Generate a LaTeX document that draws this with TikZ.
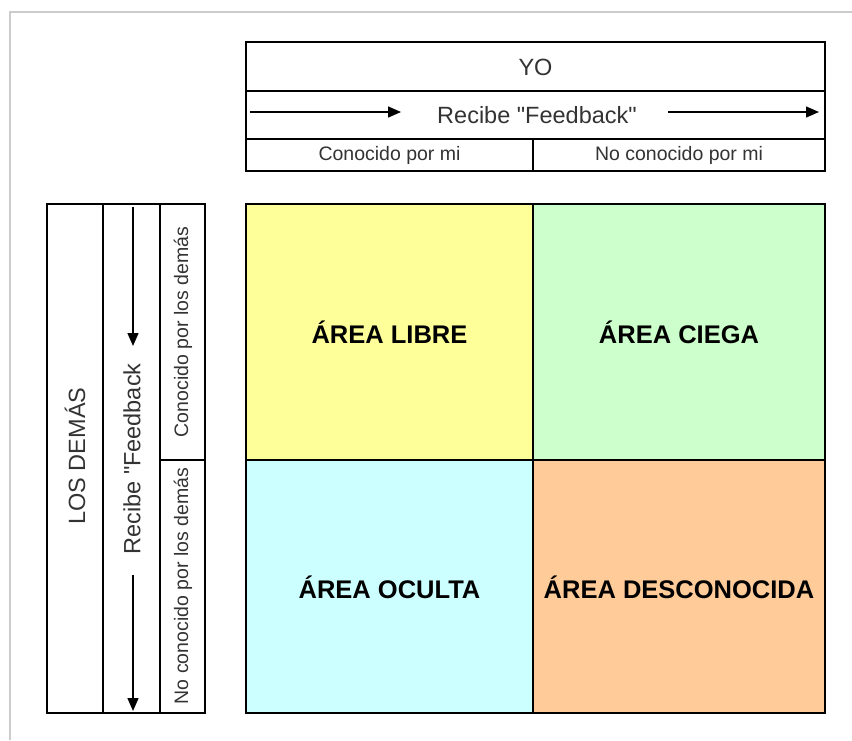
\documentclass[tikz,border=0pt]{standalone}
\usepackage{fontspec}
\setmainfont{Liberation Sans}
\usetikzlibrary{arrows.meta}
\definecolor{cYellow}{HTML}{FFFF99}
\definecolor{cGreen}{HTML}{CCFFCC}
\definecolor{cCyan}{HTML}{CCFFFF}
\definecolor{cOrange}{HTML}{FFCC99}
\definecolor{cFrame}{HTML}{CCCCCC}
\definecolor{cText}{HTML}{333333}
\tikzset{
  box/.style={draw=black, line width=2.5pt},
  thin/.style={draw=black, line width=2pt},
  fb/.style={line width=1.5pt, -{Triangle[length=13pt,width=11pt]}},
  big/.style={font=\fontsize{23.5}{26}\selectfont, text=cText, inner sep=0pt},
  small/.style={font=\fontsize{19.5}{22}\selectfont, text=cText, inner sep=0pt},
  area/.style={font=\bfseries\fontsize{25.5}{28}\selectfont, text=black, inner sep=0pt},
}
\begin{document}
\begin{tikzpicture}[x=1pt,y=-1pt]
\useasboundingbox (0,0) rectangle (852,740);
\fill[white] (0,0) rectangle (852,740);
% faint frame
\draw[cFrame, line width=1.5pt] (10,740) -- (10,12) -- (852,12);
% quadrants
\fill[cYellow] (246,204) rectangle (533,460);
\fill[cGreen] (533,204) rectangle (825,460);
\fill[cCyan] (246,460) rectangle (533,713);
\fill[cOrange] (533,460) rectangle (825,713);
\draw[thin] (533,204) -- (533,713);
\draw[thin] (246,460) -- (825,460);
\draw[box] (246,204) rectangle (825,713);
\node[area] (libre) at (389.5,332) {ÁREA LIBRE};
\node[area] (ciega) at (679,332) {ÁREA CIEGA};
\node[area] (oculta) at (389.5,587) {ÁREA OCULTA};
\node[area] (desc) at (679,587) {ÁREA DESCONOCIDA};
% top header
\draw[thin] (246,91) -- (825,91);
\draw[thin] (246,139) -- (825,139);
\draw[thin] (533,139) -- (533,171);
\draw[box] (246,42) rectangle (825,171);
\node[big] (yo) at (535.5,67) {YO};
\node[big] (fbtop) at (537,115) {Recibe \textquotedbl Feedback\textquotedbl};
\coordinate (ta1) at (250,112);
\coordinate (ta2) at (401,112);
\coordinate (tb1) at (668,112);
\coordinate (tb2) at (819,112);
\draw[fb] (ta1) -- (ta2);
\draw[fb] (tb1) -- (tb2);
\node[small] (cpm) at (389.5,155) {Conocido por mi};
\node[small] (ncpm) at (679,155) {No conocido por mi};
% left column
\draw[thin] (103,204) -- (103,713);
\draw[thin] (160,204) -- (160,713);
\draw[thin] (160,460) -- (205,460);
\draw[box] (47,204) rectangle (205,713);
\node[big, rotate=90] (demas) at (75,456) {LOS DEMÁS};
\node[big, rotate=90] (fbleft) at (132,459) {Recibe \textquotedbl Feedback};
\coordinate (la1) at (133,207);
\coordinate (la2) at (133,346);
\coordinate (lb1) at (133,575);
\coordinate (lb2) at (133,711);
\draw[fb] (la1) -- (la2);
\draw[fb] (lb1) -- (lb2);
\node[small, rotate=90] (cpd) at (183,332) {Conocido por los demás};
\node[small, rotate=90] (ncpd) at (183,586) {No conocido por los demás};
\end{tikzpicture}
\end{document}
